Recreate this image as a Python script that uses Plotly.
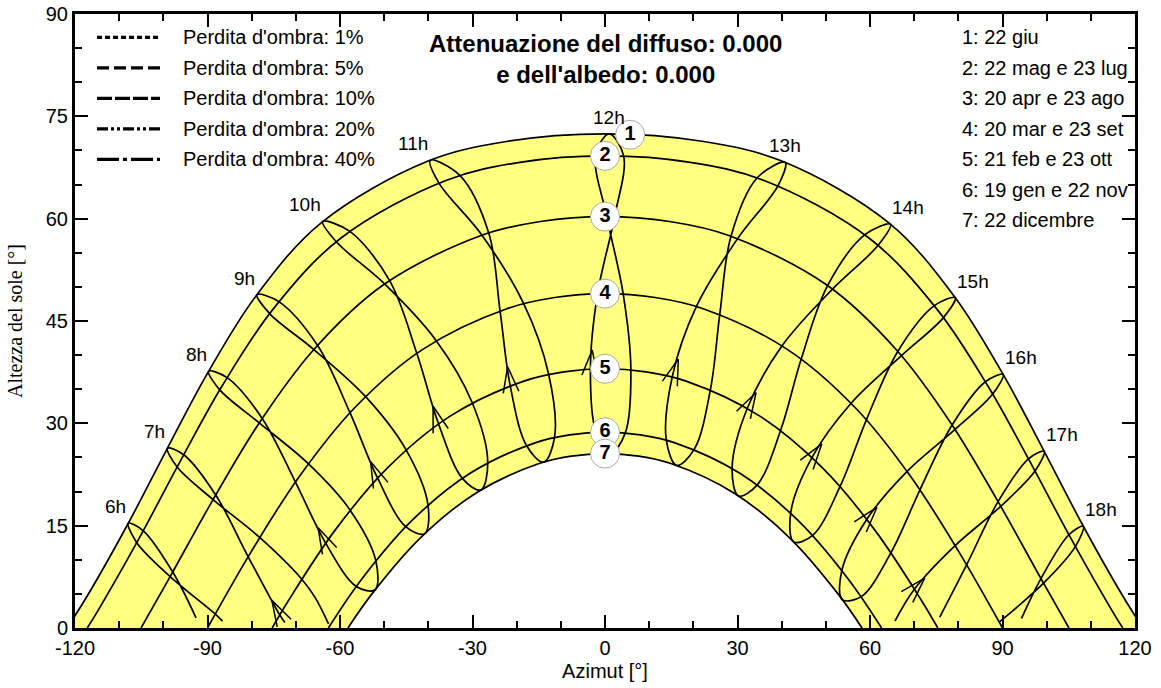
import math
import plotly.graph_objects as go

# ---------------- data ----------------
x_ticks = [-120, -90, -60, -30, 0, 30, 60, 90, 120]
x_tick_text = ["-120", "-90", "-60", "-30", "0", "30", "60", "90", "120"]
y_ticks = [0, 15, 30, 45, 60, 75, 90]
y_tick_text = ["0", "15", "30", "45", "60", "75", "90"]

# date curves: azimuth [deg] / sun altitude [deg]
d1_az = [-121.81, -117.23, -108.12, -99.26, -89.95, -79.06, -64.27, -40.18, -21.99, 0.0, 21.99, 40.18, 64.27, 79.06, 89.95, 99.26, 108.12, 117.23, 121.81]
d1_alt = [0.0, 4.69, 15.13, 26.12, 37.39, 48.64, 59.39, 68.41, 71.35, 72.44, 71.35, 68.41, 59.39, 48.64, 37.39, 26.12, 15.13, 4.69, 0.0]
d2_az = [-117.23, -114.86, -105.52, -96.37, -86.67, -75.24, -59.84, -36.02, -19.30, 0.0, 19.30, 36.02, 59.84, 75.24, 86.67, 96.37, 105.52, 114.86, 117.23]
d2_alt = [0.0, 2.48, 13.09, 24.20, 35.50, 46.67, 57.13, 65.60, 68.25, 69.2, 68.25, 65.60, 57.13, 46.67, 35.50, 24.20, 13.09, 2.48, 0.0]
d3_az = [-105.05, -98.58, -88.87, -78.44, -66.11, -50.15, -28.19, -14.64, 0.0, 14.64, 28.19, 50.15, 66.11, 78.44, 88.87, 98.58, 105.05]
d3_alt = [0.0, 7.39, 18.67, 29.91, 40.68, 50.31, 57.50, 59.58, 60.3, 59.58, 57.50, 50.31, 40.68, 29.91, 18.67, 7.39, 0.0]
d4_az = [-90.0, -80.03, -69.25, -56.73, -41.35, -22.22, -11.35, 0.0, 11.35, 22.22, 41.35, 56.73, 69.25, 80.03, 90.0]
d4_alt = [0.0, 11.26, 22.17, 32.25, 40.81, 46.80, 48.44, 49.0, 48.44, 46.80, 40.81, 32.25, 22.17, 11.26, 0.0]
d5_az = [-75.36, -71.86, -61.27, -49.19, -34.97, -18.35, -9.30, 0.0, 9.30, 18.35, 34.97, 49.19, 61.27, 71.86, 75.36]
d5_alt = [0.0, 3.82, 14.20, 23.50, 31.09, 36.19, 37.54, 38.0, 37.54, 36.19, 31.09, 23.50, 14.20, 3.82, 0.0]
d6_az = [-62.63, -54.97, -43.58, -30.54, -15.83, -7.99, 0.0, 7.99, 15.83, 30.54, 43.58, 54.97, 62.63]
d6_alt = [0.0, 7.26, 15.84, 22.67, 27.14, 28.30, 28.7, 28.30, 27.14, 22.67, 15.84, 7.26, 0.0]
d7_az = [-58.19, -52.89, -41.79, -29.18, -15.07, -7.60, 0.0, 7.60, 15.07, 29.18, 41.79, 52.89, 58.19]
d7_alt = [0.0, 4.89, 13.22, 19.80, 24.07, 25.19, 25.56, 25.19, 24.07, 19.80, 13.22, 4.89, 0.0]

# hour lines (analemmas), points through the year
h06_az = [-92.6, -97.87, -104.55, -107.94, -106.01, -98.45, -88.23, -86.6]
h06_alt = [1.5, 8.21, 14.25, 15.35, 12.51, 7.54, 2.04, 1.0]
h07_az = [-72.5, -73.64, -80.78, -88.14, -95.38, -99.08, -96.86, -88.74, -78.19, -68.70, -65.65, -62.6]
h07_alt = [0.8, 1.92, 10.44, 19.50, 25.40, 26.34, 23.60, 18.82, 13.27, 7.19, 4.49, 0.6]
h08_az = [-56.32, -63.25, -70.09, -77.62, -85.57, -89.75, -87.22, -78.29, -67.18, -57.75, -51.91, -52.06]
h08_alt = [6.09, 12.45, 21.39, 30.72, 36.70, 37.62, 34.90, 30.06, 24.08, 17.31, 9.92, 5.61]
h09_az = [-45.12, -51.50, -57.74, -65.10, -73.86, -78.81, -75.93, -65.93, -54.25, -45.10, -40.09, -40.84]
h09_alt = [14.85, 21.99, 31.56, 41.44, 47.84, 48.86, 46.09, 40.82, 33.95, 26.18, 18.08, 13.82]
h10_az = [-32.30, -37.70, -42.61, -48.79, -57.85, -63.91, -60.83, -49.90, -38.26, -30.13, -26.55, -28.11]
h10_alt = [21.94, 29.94, 40.26, 50.95, 58.17, 59.59, 56.61, 50.43, 42.16, 33.13, 24.32, 20.24]
h11_az = [-17.78, -21.48, -23.76, -26.32, -32.82, -39.55, -37.62, -27.85, -18.44, -12.80, -11.41, -13.89]
h11_alt = [26.75, 35.56, 46.49, 57.89, 66.31, 68.56, 65.24, 57.57, 47.57, 37.31, 28.03, 24.31]
h12_az = [-2.03, -3.30, -1.68, 2.18, 4.23, 0.91, -2.11, 0.40, 4.11, 5.86, 4.60, 1.22]
h12_alt = [28.7, 38.0, 49.0, 60.3, 69.2, 72.44, 69.2, 60.3, 49.0, 37.82, 28.6, 25.56]
h13_az = [13.88, 15.22, 20.68, 30.06, 39.22, 40.81, 34.42, 28.53, 26.00, 23.90, 20.25, 16.25]
h13_alt = [27.53, 36.82, 47.11, 57.11, 64.89, 68.26, 65.96, 57.43, 46.03, 35.07, 26.25, 23.83]
h14_az = [28.78, 32.24, 40.09, 51.51, 61.83, 64.63, 58.85, 50.40, 44.44, 39.81, 34.53, 30.25]
h14_alt = [23.40, 32.24, 41.36, 49.67, 56.09, 59.19, 57.65, 50.19, 39.46, 29.05, 21.02, 19.36]
h15_az = [42.04, 46.88, 55.72, 67.12, 76.62, 79.31, 74.55, 66.29, 59.21, 53.28, 47.07, 42.74]
h15_alt = [16.83, 25.01, 32.94, 39.92, 45.50, 48.42, 47.25, 40.54, 30.55, 20.82, 13.60, 12.62]
h16_az = [53.62, 59.29, 68.41, 79.26, 87.77, 90.15, 86.12, 78.59, 71.32, 64.79, 58.03, 53.72]
h16_alt = [8.43, 15.95, 22.95, 29.10, 34.30, 37.16, 36.10, 29.76, 20.26, 11.09, 4.60, 4.17]
h17_az = [65.64, 70.08, 79.28, 89.60, 97.36, 99.44, 95.88, 89.00, 81.87, 75.8]
h17_alt = [1.0, 5.72, 12.08, 17.84, 23.00, 25.90, 24.80, 18.52, 9.25, 1.6]
h18_az = [89.3, 99.29, 106.49, 108.30, 105.03, 98.71, 94.3]
h18_alt = [0.9, 6.57, 11.93, 14.91, 13.67, 7.24, 1.4]

hour_labels = ["6h", "7h", "8h", "9h", "10h", "11h", "12h", "13h", "14h", "15h", "16h", "17h", "18h"]
hour_closed = [False, False, True, True, True, True, True, True, True, True, True, False, False]
hour_arrow = [False, True, True, True, True, True, True, True, True, True, True, True, False]
hour_anchor = ["right"] * 6 + ["center", "center"] + ["left"] * 5

# numbered date markers
mk_az = [5.7, 0.0, 0.0, 0.0, 0.0, 0.0, 0.0]
mk_alt = [72.3, 69.2, 60.3, 49.0, 38.0, 28.7, 25.56]
mk_text = ["1", "2", "3", "4", "5", "6", "7"]

date_labels = ["1: 22 giu", "2: 22 mag e 23 lug", "3: 20 apr e 23 ago", "4: 20 mar e 23 set",
               "5: 21 feb e 23 ott", "6: 19 gen e 22 nov", "7: 22 dicembre"]
shade_labels = ["Perdita d'ombra: 1%", "Perdita d'ombra: 5%", "Perdita d'ombra: 10%",
                "Perdita d'ombra: 20%", "Perdita d'ombra: 40%"]
title_lines = ["Attenuazione del diffuso: 0.000", "e dell'albedo: 0.000"]

# ---------------- layout constants ----------------
W, H = 1161, 688
PLOT_L, PLOT_T, PLOT_R, PLOT_B = 75, 14, 1135, 628   # plot area in page pixels
ML, MT = PLOT_L, PLOT_T
PW, PH = PLOT_R - PLOT_L, PLOT_B - PLOT_T
MR, MB = W - ML - PW, H - MT - PH
XR, YR = (-120, 120), (0, 90)
SX = PW / (XR[1] - XR[0])
SY = PH / (YR[1] - YR[0])
FONT = "Liberation Sans, Arial, Helvetica, sans-serif"
YELLOW = "#FFFF80"
LW = 1.7

def px_x(px):
    return (px - PLOT_L) / PW

def px_y(py):
    return (PLOT_B - py) / PH

fig = go.Figure()

date_curves = [(d1_az, d1_alt), (d2_az, d2_alt), (d3_az, d3_alt), (d4_az, d4_alt),
               (d5_az, d5_alt), (d6_az, d6_alt), (d7_az, d7_alt)]
hour_lines = [(h06_az, h06_alt), (h07_az, h07_alt), (h08_az, h08_alt), (h09_az, h09_alt),
              (h10_az, h10_alt), (h11_az, h11_alt), (h12_az, h12_alt), (h13_az, h13_alt),
              (h14_az, h14_alt), (h15_az, h15_alt), (h16_az, h16_alt), (h17_az, h17_alt),
              (h18_az, h18_alt)]

# yellow band between the june and december paths
fig.add_trace(go.Scatter(x=d1_az, y=d1_alt, mode="lines", fill="tozeroy", fillcolor=YELLOW,
                         line=dict(width=0, color="rgba(0,0,0,0)", shape="spline", simplify=False),
                         hoverinfo="skip", showlegend=False))
fig.add_trace(go.Scatter(x=d7_az, y=d7_alt, mode="lines", fill="tozeroy", fillcolor="white",
                         line=dict(width=0, color="rgba(0,0,0,0)", shape="spline", simplify=False),
                         hoverinfo="skip", showlegend=False))

for az, alt in date_curves:
    fig.add_trace(go.Scatter(x=az, y=alt, mode="lines",
                             line=dict(color="black", width=LW, shape="spline", simplify=False),
                             hoverinfo="skip", showlegend=False))

for (az, alt), closed in zip(hour_lines, hour_closed):
    xs = list(az) + ([az[0]] if closed else [])
    ys = list(alt) + ([alt[0]] if closed else [])
    fig.add_trace(go.Scatter(x=xs, y=ys, mode="lines",
                             line=dict(color="black", width=LW, shape="spline", simplify=False),
                             hoverinfo="skip", showlegend=False))

# direction arrows (open chevrons) a little after the 21 feb point
ARM = 27.0
HALF = math.radians(17)
ax_, ay_ = [], []
for (az, alt), has in zip(hour_lines, hour_arrow):
    if not has:
        continue
    x0, y0, x1, y1 = az[1], alt[1], az[2], alt[2]
    tx, ty = x0 + 0.25 * (x1 - x0), y0 + 0.25 * (y1 - y0)
    dx, dy = (x1 - x0) * SX, (y1 - y0) * SY
    n = math.hypot(dx, dy)
    bx, by = -dx / n, -dy / n
    pts = []
    for s in (1, -1):
        c, sn = math.cos(s * HALF), math.sin(s * HALF)
        vx, vy = bx * c - by * sn, bx * sn + by * c
        pts.append((tx + ARM * vx / SX, ty + ARM * vy / SY))
    ax_ += [pts[0][0], tx, pts[1][0], None]
    ay_ += [pts[0][1], ty, pts[1][1], None]
fig.add_trace(go.Scatter(x=ax_, y=ay_, mode="lines", line=dict(color="black", width=1.5),
                         hoverinfo="skip", showlegend=False))

# numbered markers
fig.add_trace(go.Scatter(x=mk_az, y=mk_alt, mode="markers+text", text=["<b>%s</b>" % t for t in mk_text],
                         textposition="middle center",
                         textfont=dict(family=FONT, size=20, color="black"),
                         marker=dict(size=29, color="white", line=dict(color="#a8a8a8", width=1)),
                         hoverinfo="skip", showlegend=False))

annotations = []
# hour labels next to the june point of each hour line
for (az, alt), lab, xa in zip(hour_lines, hour_labels, hour_anchor):
    i = alt.index(max(alt))
    annotations.append(dict(x=az[i], y=alt[i], xref="x", yref="y", text=lab, showarrow=False,
                            xanchor=xa, yanchor="bottom", yshift=4,
                            font=dict(family=FONT, size=19, color="black")))

# title
annotations.append(dict(x=0.5, y=px_y(59), xref="paper", yref="paper",
                        text="<b>" + "<br>".join(title_lines) + "</b>", showarrow=False,
                        xanchor="center", yanchor="middle",
                        font=dict(family=FONT, size=24, color="black")))

# right legend (dates)
for k, t in enumerate(date_labels):
    annotations.append(dict(x=px_x(960), y=px_y(37 + 30.5 * k), xref="paper", yref="paper",
                            text=t, showarrow=False, xanchor="left", yanchor="middle",
                            font=dict(family=FONT, size=20, color="black")))

# left legend (shading losses)
shade_dash = ["5px,3px", "12px,5px", "15px,3px", "11px,3px,3px,3px,3px,3px", "22px,4px,4px,4px"]
shapes = []
for k, t in enumerate(shade_labels):
    yy = px_y(37.3 + 30.5 * k)
    shapes.append(dict(type="line", xref="paper", yref="paper", x0=px_x(97), x1=px_x(160),
                       y0=yy, y1=yy, line=dict(color="black", width=3.2, dash=shade_dash[k])))
    annotations.append(dict(x=px_x(181), y=yy, xref="paper", yref="paper", text=t,
                            showarrow=False, xanchor="left", yanchor="middle",
                            font=dict(family=FONT, size=20, color="black")))

axis_common = dict(showgrid=False, zeroline=False, showline=True, linewidth=3, linecolor="black",
                   mirror="allticks", ticks="inside", ticklen=13, tickwidth=2, tickcolor="black",
                   tickfont=dict(family=FONT, size=20, color="black"), automargin=False,
                   ticklabeloverflow="allow")

fig.update_xaxes(range=list(XR), tickvals=x_ticks, ticktext=x_tick_text,
                 minor=dict(tick0=0, dtick=10, ticks="inside", ticklen=7, tickwidth=2, tickcolor="black"),
                 title=dict(text="Azimut [°]", font=dict(family=FONT, size=20, color="black"), standoff=6),
                 **axis_common)
fig.update_yaxes(range=list(YR), tickvals=y_ticks, ticktext=y_tick_text,
                 minor=dict(tick0=0, dtick=5, ticks="inside", ticklen=7, tickwidth=2, tickcolor="black"),
                 title=dict(text="Altezza del sole [°]",
                            font=dict(family="Liberation Serif, Times New Roman, serif", size=20, color="black"),
                            standoff=18),
                 **axis_common)

fig.update_layout(width=W, height=H, margin=dict(l=ML, r=MR, t=MT, b=MB, autoexpand=False),
                  paper_bgcolor="white", plot_bgcolor="white", showlegend=False,
                  font=dict(family=FONT, size=20, color="black"),
                  annotations=annotations, shapes=shapes)

fig.write_html("out.html", include_plotlyjs=True, config={"displayModeBar": False},
               post_script="document.body.style.margin='0';document.body.style.overflow='hidden';")
